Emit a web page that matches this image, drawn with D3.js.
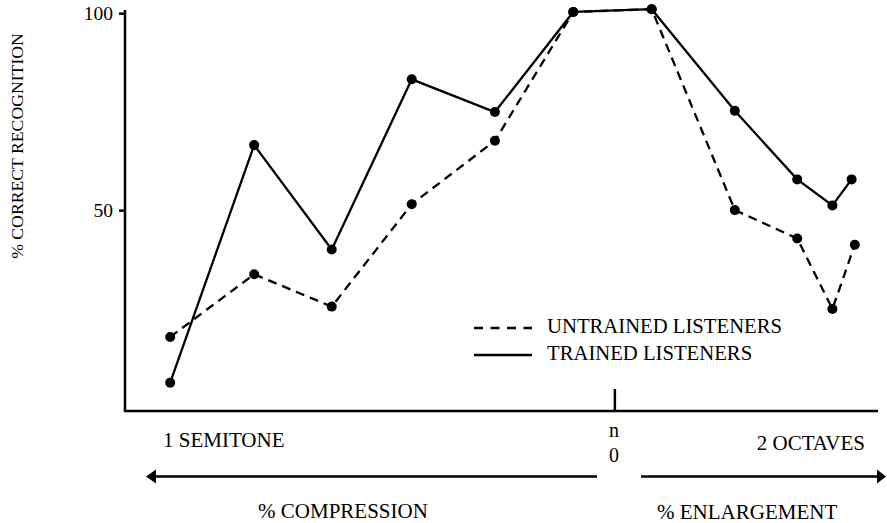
<!DOCTYPE html>
<html>
<head>
<meta charset="utf-8">
<script src="https://cdn.jsdelivr.net/npm/d3@7"></script>
<style>
  body { margin: 0; background: #fff; }
  svg text { font-family: "Liberation Serif", "Times New Roman", Tinos, "DejaVu Serif", serif; fill: #000; }
</style>
</head>
<body>
<svg id="chart" width="887" height="523"></svg>
<script>
// x = position in steps relative to the unaltered melody (0), negative = compression
const trainedX = [-5.56, -4.51, -3.54, -2.54, -1.5, -0.52, 0.46, 1.5, 2.28, 2.72, 2.96];
const trainedY = [6.2, 66.5, 40.0, 83.2, 74.9, 100.3, 101.0, 75.2, 57.8, 51.2, 57.8];
const untrainedX = [-5.56, -4.51, -3.54, -2.54, -1.5, -0.52, 0.46, 1.5, 2.28, 2.72, 3.0];
const untrainedY = [17.8, 33.7, 25.5, 51.5, 67.6, 100.3, 101.0, 50.0, 42.8, 24.9, 41.2];
const yTicks = [50, 100];
const legendLabels = ["UNTRAINED LISTENERS", "TRAINED LISTENERS"];

const FONT = '"Liberation Serif", "Times New Roman", Tinos, "DejaVu Serif", serif';

const svg = d3.select("#chart");

const x = d3.scaleLinear().domain([-6.125, 3.29]).range([125, 878]);
const y = d3.scaleLinear().domain([-1, 100.8]).range([411, 10]);

const trained = trainedX.map((v, i) => ({ x: v, y: trainedY[i] }));
const untrained = untrainedX.map((v, i) => ({ x: v, y: untrainedY[i] }));

// axes
const yAxis = (g) =>
  g.call(d3.axisLeft(y).tickValues(yTicks).tickSize(6).tickPadding(6).tickFormat(d3.format("d")))
    .call((g) => g.select(".domain").remove())
    .call((g) => g.selectAll("line").attr("stroke", "#000").attr("stroke-width", 2.5))
    .call((g) => g.selectAll("text").attr("font-size", 19.5).attr("font-family", FONT).attr("fill", "#000"));

svg.append("g").attr("transform", "translate(125,0)").call(yAxis);

svg.append("line")
  .attr("x1", 125).attr("x2", 125)
  .attr("y1", 10).attr("y2", 412)
  .attr("stroke", "#000").attr("stroke-width", 2.5);

svg.append("line")
  .attr("x1", 124).attr("x2", x.range()[1])
  .attr("y1", 411).attr("y2", 411)
  .attr("stroke", "#000").attr("stroke-width", 2.5);

// centre tick at 0
svg.append("line")
  .attr("x1", x(0)).attr("x2", x(0))
  .attr("y1", 389).attr("y2", 411)
  .attr("stroke", "#000").attr("stroke-width", 2.5);

const line = d3.line().x((d) => x(d.x)).y((d) => y(d.y));

svg.append("path").datum(untrained)
  .attr("d", line).attr("fill", "none")
  .attr("stroke", "#000").attr("stroke-width", 2.3)
  .attr("stroke-dasharray", "9,6");

svg.append("path").datum(trained)
  .attr("d", line).attr("fill", "none")
  .attr("stroke", "#000").attr("stroke-width", 2.3);

svg.selectAll(".dot")
  .data(untrained.concat(trained))
  .join("circle")
  .attr("cx", (d) => x(d.x))
  .attr("cy", (d) => y(d.y))
  .attr("r", 5)
  .attr("fill", "#000");

// legend
const legend = svg.append("g");
legendLabels.forEach((label, i) => {
  const ly = 328 + i * 27;
  legend.append("line")
    .attr("x1", 474).attr("x2", 532)
    .attr("y1", ly).attr("y2", ly)
    .attr("stroke", "#000").attr("stroke-width", 2.3)
    .attr("stroke-dasharray", i === 0 ? "9,7.5" : null);
  legend.append("text")
    .attr("x", 547).attr("y", ly + 5)
    .attr("font-family", FONT)
    .attr("font-size", 20.7)
    .text(label);
});

// y label
svg.append("text")
  .attr("transform", "translate(23,146) rotate(-90)")
  .attr("text-anchor", "middle")
  .attr("font-family", FONT)
  .attr("font-size", 17.7)
  .text("% CORRECT RECOGNITION");

// x annotations
const label = (tx, ty, txt, anchor, size) =>
  svg.append("text").attr("x", tx).attr("y", ty)
    .attr("text-anchor", anchor).attr("font-family", FONT)
    .attr("font-size", size).text(txt);

label(163, 447, "1 SEMITONE", "start", 21);
label(865, 450, "2 OCTAVES", "end", 21);
label(614, 437, "n", "middle", 20);
label(614, 462, "0", "middle", 20);

// arrows
const arrowY = 476.5;
svg.append("line")
  .attr("x1", 154).attr("x2", 597)
  .attr("y1", arrowY).attr("y2", arrowY)
  .attr("stroke", "#000").attr("stroke-width", 2.5);
svg.append("path")
  .attr("d", `M146,${arrowY} L156,${arrowY - 7} L156,${arrowY + 7} Z`)
  .attr("fill", "#000");

svg.append("line")
  .attr("x1", 641).attr("x2", 878)
  .attr("y1", arrowY).attr("y2", arrowY)
  .attr("stroke", "#000").attr("stroke-width", 2.5);
svg.append("path")
  .attr("d", `M886,${arrowY} L877,${arrowY - 7} L877,${arrowY + 7} Z`)
  .attr("fill", "#000");

label(343, 518, "% COMPRESSION", "middle", 21);
label(657, 519, "% ENLARGEMENT", "start", 21);
</script>
</body>
</html>
